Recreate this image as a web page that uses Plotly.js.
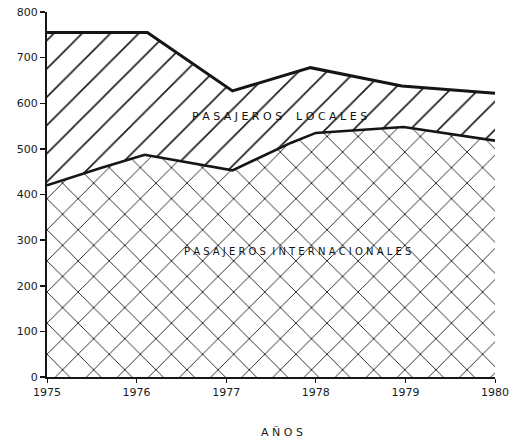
<!DOCTYPE html>
<html><head><meta charset="utf-8">
<script src="https://cdn.plot.ly/plotly-3.0.1.min.js"></script>
<style>html,body{margin:0;padding:0;background:#fff}#c{width:513px;height:445px}</style>
</head><body><div id="c"></div>
<script>
// Total passengers (upper boundary)
const totalYears = [1975, 1976.12, 1977.07, 1977.94, 1978.96, 1980];
const totalValues = [755, 755, 627, 678, 638, 622];
// International passengers (lower boundary)
const intlYears = [1975, 1975.6, 1976.09, 1977.07, 1977.72, 1978.0, 1978.98, 1980];
const intlValues = [420, 458, 487, 453, 513, 535, 548, 518];
const xTicks = [1975, 1976, 1977, 1978, 1979, 1980];
const xTickText = ['1975', '1976', '1977', '1978', '1979', '1980'];
const yTicks = [0, 100, 200, 300, 400, 500, 600, 700, 800];
const yTickText = ['0', '100', '200', '300', '400', '500', '600', '700', '800'];

const ink = '#151515';
const traces = [
  {x: intlYears, y: intlValues, type: 'scatter', mode: 'lines', fill: 'tozeroy',
   line: {color: ink, width: 2.6},
   fillcolor: 'rgba(0,0,0,0)',
   fillpattern: {shape: 'x', size: 22, solidity: 0.08, fgcolor: '#1a1a1a', bgcolor: '#fff'},
   hoverinfo: 'skip', showlegend: false},
  {x: totalYears, y: totalValues, type: 'scatter', mode: 'lines', fill: 'tonexty',
   line: {color: ink, width: 3},
   fillcolor: 'rgba(0,0,0,0)',
   fillpattern: {shape: '/', size: 20, solidity: 0.08, fgcolor: '#1a1a1a', bgcolor: '#fff'},
   hoverinfo: 'skip', showlegend: false}
];
const tf = {family: 'DejaVu Sans, sans-serif', size: 11, color: '#1a1a1a'};
const layout = {
  width: 513, height: 445,
  margin: {l: 47, r: 18, t: 12, b: 68},
  paper_bgcolor: '#fff', plot_bgcolor: '#fff',
  font: tf,
  xaxis: {range: [1975, 1980], tickvals: xTicks, ticktext: xTickText, showgrid: false, zeroline: false,
    showline: true, linecolor: ink, linewidth: 1.5, ticks: 'outside', ticklen: 4, tickcolor: ink,
    tickfont: tf},
  yaxis: {range: [0, 800], tickvals: yTicks, ticktext: yTickText, showgrid: false, zeroline: false,
    showline: true, linecolor: ink, linewidth: 2, ticks: 'outside', ticklen: 5, tickcolor: ink, tickwidth: 1.5,
    tickfont: tf},
  annotations: [
    {x: 1977.6, y: 572, xref: 'x', yref: 'y', text: 'P A S A J E R O S    L O C A L E S', showarrow: false,
     font: {family: 'DejaVu Sans, sans-serif', size: 11, color: '#111'}},
    {x: 1977.8, y: 276, xref: 'x', yref: 'y', text: 'P A S A J E R O S  I N T E R N A C I O N A L E S', showarrow: false,
     font: {family: 'DejaVu Sans, sans-serif', size: 10, color: '#111'}},
    {x: 0.525, y: 13, xref: 'paper', yref: 'paper', yanchor: 'middle', yshift: 0, text: 'A Ñ O S', showarrow: false,
     font: {family: 'DejaVu Sans, sans-serif', size: 11, color: '#1a1a1a'}}
  ]
};
// place the x-axis title annotation in pixel terms below the plot
layout.annotations[2].y = -(432 - 377) / 365;
Plotly.newPlot('c', traces, layout, {displayModeBar: false, staticPlot: true});
</script></body></html>
